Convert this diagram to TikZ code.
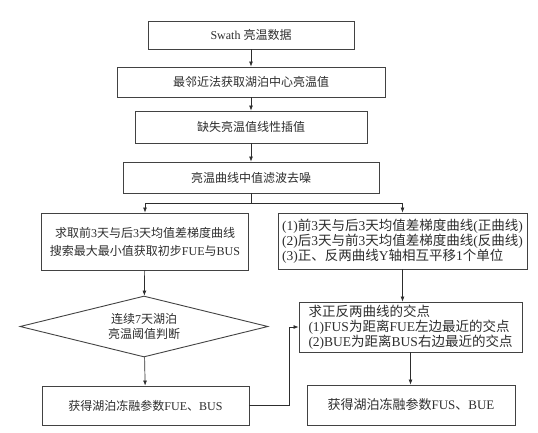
\documentclass[tikz,border=0pt]{standalone}
\usepackage{fontspec}
\setmainfont{Liberation Serif}
\newfontfamily\cjk{Noto Sans CJK SC}
\usetikzlibrary{arrows.meta,positioning,shapes.geometric}
\definecolor{ink}{RGB}{45,45,45}
% switch to the CJK family around Chinese characters
\XeTeXinterchartokenstate=1
\newXeTeXintercharclass\zhclass
\count255="3000
\loop\ifnum\count255<"A000
  \XeTeXcharclass\count255=\zhclass
  \advance\count255 by 1
\repeat
\XeTeXinterchartoks 0 \zhclass={\cjk}
\XeTeXinterchartoks 4095 \zhclass={\cjk}
\XeTeXinterchartoks \zhclass 0={\rmfamily}
\XeTeXinterchartoks \zhclass 4095={\rmfamily}
\tikzset{
  box/.style={draw=ink!90,line width=0.9pt,inner sep=2pt,align=center,text=ink,
    font=\fontsize{12}{18}\selectfont},
  note/.style={box,align=left,font=\fontsize{13.5}{15}\selectfont},
  judgebox/.style={box,diamond,aspect=4,inner sep=0pt,font=\fontsize{12}{15}\selectfont},
  arr/.style={-{Latex[length=5pt,width=4pt]},line width=0.7pt,ink},
  link/.style={line width=0.7pt,ink},
}

\begin{document}
\begin{tikzpicture}[x=1pt,y=-1pt]
\useasboundingbox (0,0) rectangle (538,432);
% main chain
\node[box,minimum width=206pt,minimum height=28pt] (swath) at (251,35) {Swath 亮温数据};
\node[box,minimum width=268pt,minimum height=30pt] (nearest) at (251,82) {最邻近法获取湖泊中心亮温值};
\node[box,minimum width=232pt,minimum height=32pt] (interp) at (251,127) {缺失亮温值线性插值};
\node[box,minimum width=256pt,minimum height=31pt] (median) at (251,177.5) {亮温曲线中值滤波去噪};
\coordinate (fork) at (251,203);
% left branch
\node[box,minimum width=207pt,minimum height=57pt] (gradL) at (145,241.5)
  {求取前3天与后3天均值差梯度曲线\\搜索最大最小值获取初步FUE与BUS};
\node[judgebox,minimum width=248pt,minimum height=61pt] (judge) at (144,326.5)
  {连续7天湖泊\\亮温阈值判断};
\node[box,minimum width=207pt,minimum height=39pt] (paramL) at (145.5,405.5)
  {获得湖泊冻融参数FUE、BUS};
% right branch
\node[note,minimum width=249pt,minimum height=56pt] (curvR) at (402.5,241)
  {(1)前3天与后3天均值差梯度曲线(正曲线)\\(2)后3天与前3天均值差梯度曲线(反曲线)\\(3)正、反两曲线Y轴相互平移1个单位};
\node[note,minimum width=223pt,minimum height=50pt] (crossR) at (410.5,327)
  {求正反两曲线的交点\\(1)FUS为距离FUE左边最近的交点\\(2)BUE为距离BUS右边最近的交点};
\node[box,font=\fontsize{13}{15}\selectfont,minimum width=208pt,minimum height=40pt] (paramR) at (411,405)
  {获得湖泊冻融参数FUS、BUE};
\coordinate (bend) at (289,0);

\draw[arr] (swath) -- (nearest);
\draw[arr] (nearest) -- (interp);
\draw[arr] (interp) -- (median);
\draw[link] (median) -- (fork);
\draw[arr] (fork) -| (gradL.north);
\draw[arr] (fork) -| (curvR.north);
\draw[arr] (gradL) -- (judge);
\draw[arr] (judge) -- (paramL);
\draw[arr] (curvR.south) -- (curvR.south |- crossR.north);
\draw[arr] (crossR.south) -- (crossR.south |- paramR.north);
\draw[arr] (paramL.east) -- (paramL.east -| bend) |- (crossR.west);
\end{tikzpicture}
\end{document}
